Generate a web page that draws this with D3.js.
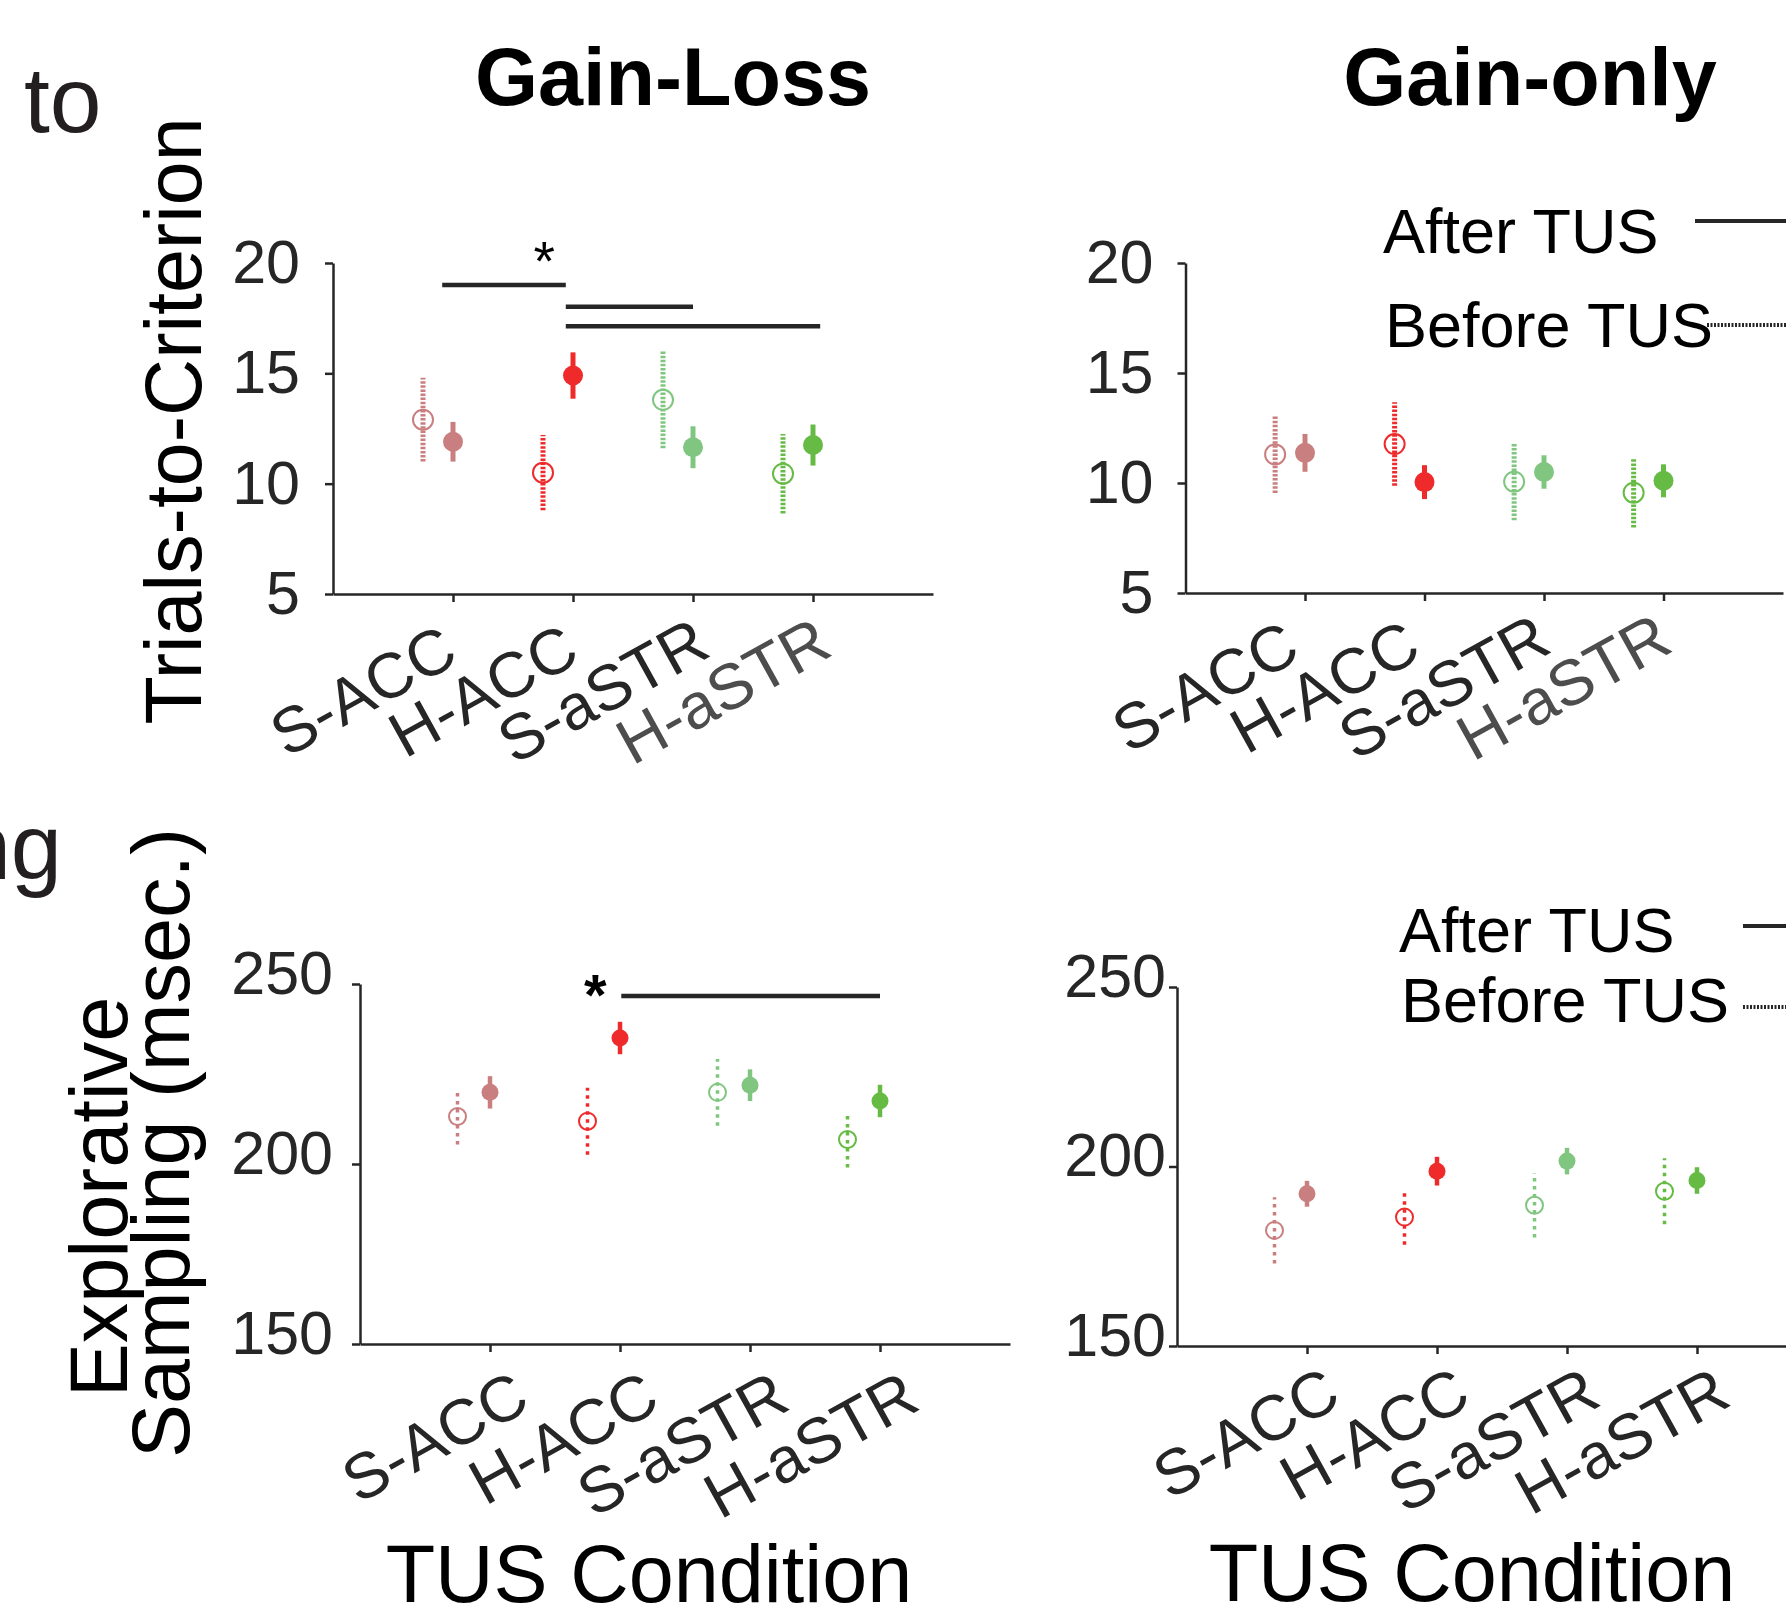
<!DOCTYPE html>
<html>
<head>
<meta charset="utf-8">
<script src="https://cdn.jsdelivr.net/npm/d3@7"></script>
<style>
  body { margin: 0; background: #fff; }
  svg { display: block; font-family: "Liberation Sans", Arial, Helvetica, sans-serif; }
</style>
</head>
<body>
<svg id="chart" width="1786" height="1621"></svg>
<script>
const categories = ["S-ACC", "H-ACC", "S-aSTR", "H-aSTR"];
const colors = ["#c97f7f", "#ee2a2a", "#80c680", "#66bb44"];

// Gain-Loss, trials-to-criterion
const glTrialsBefore = [12.9, 10.5, 13.8, 10.45];
const glTrialsBeforeErr = [1.9, 1.7, 2.2, 1.8];
const glTrialsAfter = [11.9, 14.9, 11.65, 11.75];
const glTrialsAfterErr = [0.9, 1.05, 0.95, 0.93];

// Gain-only, trials-to-criterion
const goTrialsBefore = [11.3, 11.77, 10.06, 9.56];
const goTrialsBeforeErr = [1.75, 1.9, 1.75, 1.58];
const goTrialsAfter = [11.37, 10.04, 10.5, 10.1];
const goTrialsAfterErr = [0.86, 0.77, 0.76, 0.75];

// Gain-Loss, explorative sampling (msec)
const glSampBefore = [213.2, 211.9, 219.9, 206.8];
const glSampBeforeErr = [7.8, 9.3, 9.3, 7.8];
const glSampAfter = [219.9, 235.0, 221.9, 217.5];
const glSampAfterErr = [4.5, 4.5, 4.4, 4.5];

// Gain-only, explorative sampling (msec)
const goSampBefore = [182.2, 185.9, 189.2, 193.1];
const goSampBeforeErr = [9.2, 7.7, 9.0, 9.2];
const goSampAfter = [192.4, 198.7, 201.5, 196.1];
const goSampAfterErr = [3.6, 4.0, 3.7, 3.7];

const trialsTicks = [5, 10, 15, 20];
const sampTicks = [150, 200, 250];

// significance bars: [x from, x to, y] in data units
const glTrialsSig = [[0.91, 1.94, 19.0], [1.94, 3.0, 18.02], [1.94, 4.06, 17.13]];
const glSampSig = [[2.01, 4.0, 246.7]];

const svg = d3.select("#chart");
const ink = "#262626";

const panels = [
  { left: 333, step: 120, top: 263, bottom: 594, domain: [5, 20], ticks: trialsTicks,
    before: glTrialsBefore, beforeErr: glTrialsBeforeErr, after: glTrialsAfter, afterErr: glTrialsAfterErr,
    pad: 25, tickDy: "0.32em", lab: [-80, 116, "middle"], grayLast: true, big: true,
    sig: glTrialsSig, star: [1.76, 19.25, 55, "normal"] },
  { left: 1185.5, step: 119.5, top: 263, bottom: 593, domain: [5, 20], ticks: trialsTicks,
    before: goTrialsBefore, beforeErr: goTrialsBeforeErr, after: goTrialsAfter, afterErr: goTrialsAfterErr,
    pad: 24, tickDy: "0.32em", lab: [-90, 113, "middle"], grayLast: true, big: true, sig: [] },
  { left: 360, step: 130, top: 984, bottom: 1344, domain: [150, 250], ticks: sampTicks,
    before: glSampBefore, beforeErr: glSampBeforeErr, after: glSampAfter, afterErr: glSampAfterErr,
    pad: 19, tickDy: "0.15em", lab: [42, 64, "end"], grayLast: false, big: false,
    sig: glSampSig, star: [1.81, 241.4, 58, "bold"] },
  { left: 1177, step: 130, top: 987, bottom: 1346, domain: [150, 250], ticks: sampTicks,
    before: goSampBefore, beforeErr: goSampBeforeErr, after: goSampAfter, afterErr: goSampAfterErr,
    pad: 3, tickDy: "0.15em", lab: [36, 58, "end"], grayLast: false, big: false, sig: [] }
];

function styleAxis(a) {
  a.attr("font-family", null).attr("font-size", 61);
  a.select(".domain").attr("stroke", ink).attr("stroke-width", 2.5);
  a.selectAll(".tick line").attr("stroke", ink).attr("stroke-width", 2.5);
  a.selectAll(".tick text").attr("fill", ink);
}

function drawPanel(p) {
  const g = svg.append("g");
  const x = d3.scaleLinear().domain([0, 5]).range([p.left, p.left + 5 * p.step]);
  const y = d3.scaleLinear().domain(p.domain).range([p.bottom, p.top]);

  const ya = g.append("g")
    .attr("transform", `translate(${p.left},0)`)
    .call(d3.axisLeft(y).tickValues(p.ticks).tickSize(8).tickSizeOuter(0).tickPadding(p.pad));
  styleAxis(ya);
  ya.selectAll(".tick text").attr("dy", p.tickDy);

  const xa = g.append("g")
    .attr("transform", `translate(0,${p.bottom})`)
    .call(d3.axisBottom(x).tickValues([1, 2, 3, 4]).tickFormat(d => categories[d - 1])
      .tickSize(8).tickSizeOuter(0));
  styleAxis(xa);
  xa.selectAll(".tick text")
    .attr("x", 0).attr("y", 0).attr("dy", null)
    .attr("font-size", 64)
    .attr("text-anchor", p.lab[2])
    .attr("transform", `translate(${p.lab[0]},${p.lab[1]}) rotate(-29)`)
    .attr("fill", (d) => (p.grayLast && d === 4 ? "#4d4d4d" : ink));

  const r = p.big ? 10 : 8.5;
  const solidW = p.big ? 5 : 4.5;
  const dotW = p.big ? 5 : 3.5;
  const dash = p.big ? "2.5,1.6" : "3.5,4.5";

  categories.forEach((c, i) => {
    const xb = x(i + 1 - 0.25);
    const xa2 = x(i + 1);
    // before TUS: dotted bar, open circle
    g.append("line")
      .attr("x1", xb).attr("x2", xb)
      .attr("y1", y(p.before[i] - p.beforeErr[i]))
      .attr("y2", y(p.before[i] + p.beforeErr[i]))
      .attr("stroke", colors[i]).attr("stroke-width", dotW)
      .attr("stroke-dasharray", dash);
    g.append("circle")
      .attr("cx", xb).attr("cy", y(p.before[i])).attr("r", r)
      .attr("fill", "none").attr("stroke", colors[i]).attr("stroke-width", 2);
    // after TUS: solid bar, filled circle
    g.append("line")
      .attr("x1", xa2).attr("x2", xa2)
      .attr("y1", y(p.after[i] - p.afterErr[i]))
      .attr("y2", y(p.after[i] + p.afterErr[i]))
      .attr("stroke", colors[i]).attr("stroke-width", solidW);
    g.append("circle")
      .attr("cx", xa2).attr("cy", y(p.after[i])).attr("r", r)
      .attr("fill", colors[i]);
  });

  p.sig.forEach(s => {
    g.append("line")
      .attr("x1", x(s[0])).attr("x2", x(s[1]))
      .attr("y1", y(s[2])).attr("y2", y(s[2]))
      .attr("stroke", ink).attr("stroke-width", 4.5);
  });
  if (p.star) {
    g.append("text")
      .attr("x", x(p.star[0])).attr("y", y(p.star[1]))
      .attr("text-anchor", "middle")
      .attr("font-size", p.star[2]).attr("font-weight", p.star[3])
      .attr("fill", "#000")
      .text("*");
  }
}

panels.forEach(drawPanel);

// titles
svg.append("text").attr("x", 673).attr("y", 105).attr("text-anchor", "middle")
  .attr("font-size", 81).attr("font-weight", "bold").text("Gain-Loss");
svg.append("text").attr("x", 1530).attr("y", 105).attr("text-anchor", "middle")
  .attr("font-size", 81).attr("font-weight", "bold").text("Gain-only");

// cut-off labels on the left edge
svg.append("text").attr("x", 24).attr("y", 132).attr("font-size", 93)
  .attr("fill", "#231f20").text("to");
svg.append("text").attr("x", 62).attr("y", 879).attr("text-anchor", "end")
  .attr("font-size", 92).attr("fill", "#231f20").text("ng");

// y labels
svg.append("text").attr("transform", "translate(201,421) rotate(-90)")
  .attr("text-anchor", "middle").attr("font-size", 79).attr("fill", "#000")
  .text("Trials-to-Criterion");
svg.append("text").attr("transform", "translate(127,1197) rotate(-90)")
  .attr("text-anchor", "middle").attr("font-size", 81).attr("fill", "#000")
  .text("Explorative");
svg.append("text").attr("transform", "translate(189,1143) rotate(-90)")
  .attr("text-anchor", "middle").attr("font-size", 81).attr("fill", "#000")
  .text("Sampling (msec.)");

// x labels
svg.append("text").attr("x", 649).attr("y", 1602).attr("text-anchor", "middle")
  .attr("font-size", 81).attr("fill", "#000").text("TUS Condition");
svg.append("text").attr("x", 1472).attr("y", 1601).attr("text-anchor", "middle")
  .attr("font-size", 81).attr("fill", "#000").text("TUS Condition");

// legends (cut at the right edge)
const legends = [
  { x: 1383, after: [253, 221, 1695], before: [347, 325, 1707] },
  { x: 1399, after: [952, 926, 1743], before: [1022, 1007, 1743] }
];
legends.forEach(l => {
  svg.append("text").attr("x", l.x).attr("y", l.after[0]).attr("font-size", 63)
    .attr("fill", "#000").text("After TUS");
  svg.append("line").attr("x1", l.after[2]).attr("x2", 1786)
    .attr("y1", l.after[1]).attr("y2", l.after[1])
    .attr("stroke", ink).attr("stroke-width", 4);
  svg.append("text").attr("x", l.x + 2).attr("y", l.before[0]).attr("font-size", 63)
    .attr("fill", "#000").text("Before TUS");
  svg.append("line").attr("x1", l.before[2]).attr("x2", 1786)
    .attr("y1", l.before[1]).attr("y2", l.before[1])
    .attr("stroke", ink).attr("stroke-width", 4).attr("stroke-dasharray", "2,1.5");
});
</script>
</body>
</html>
